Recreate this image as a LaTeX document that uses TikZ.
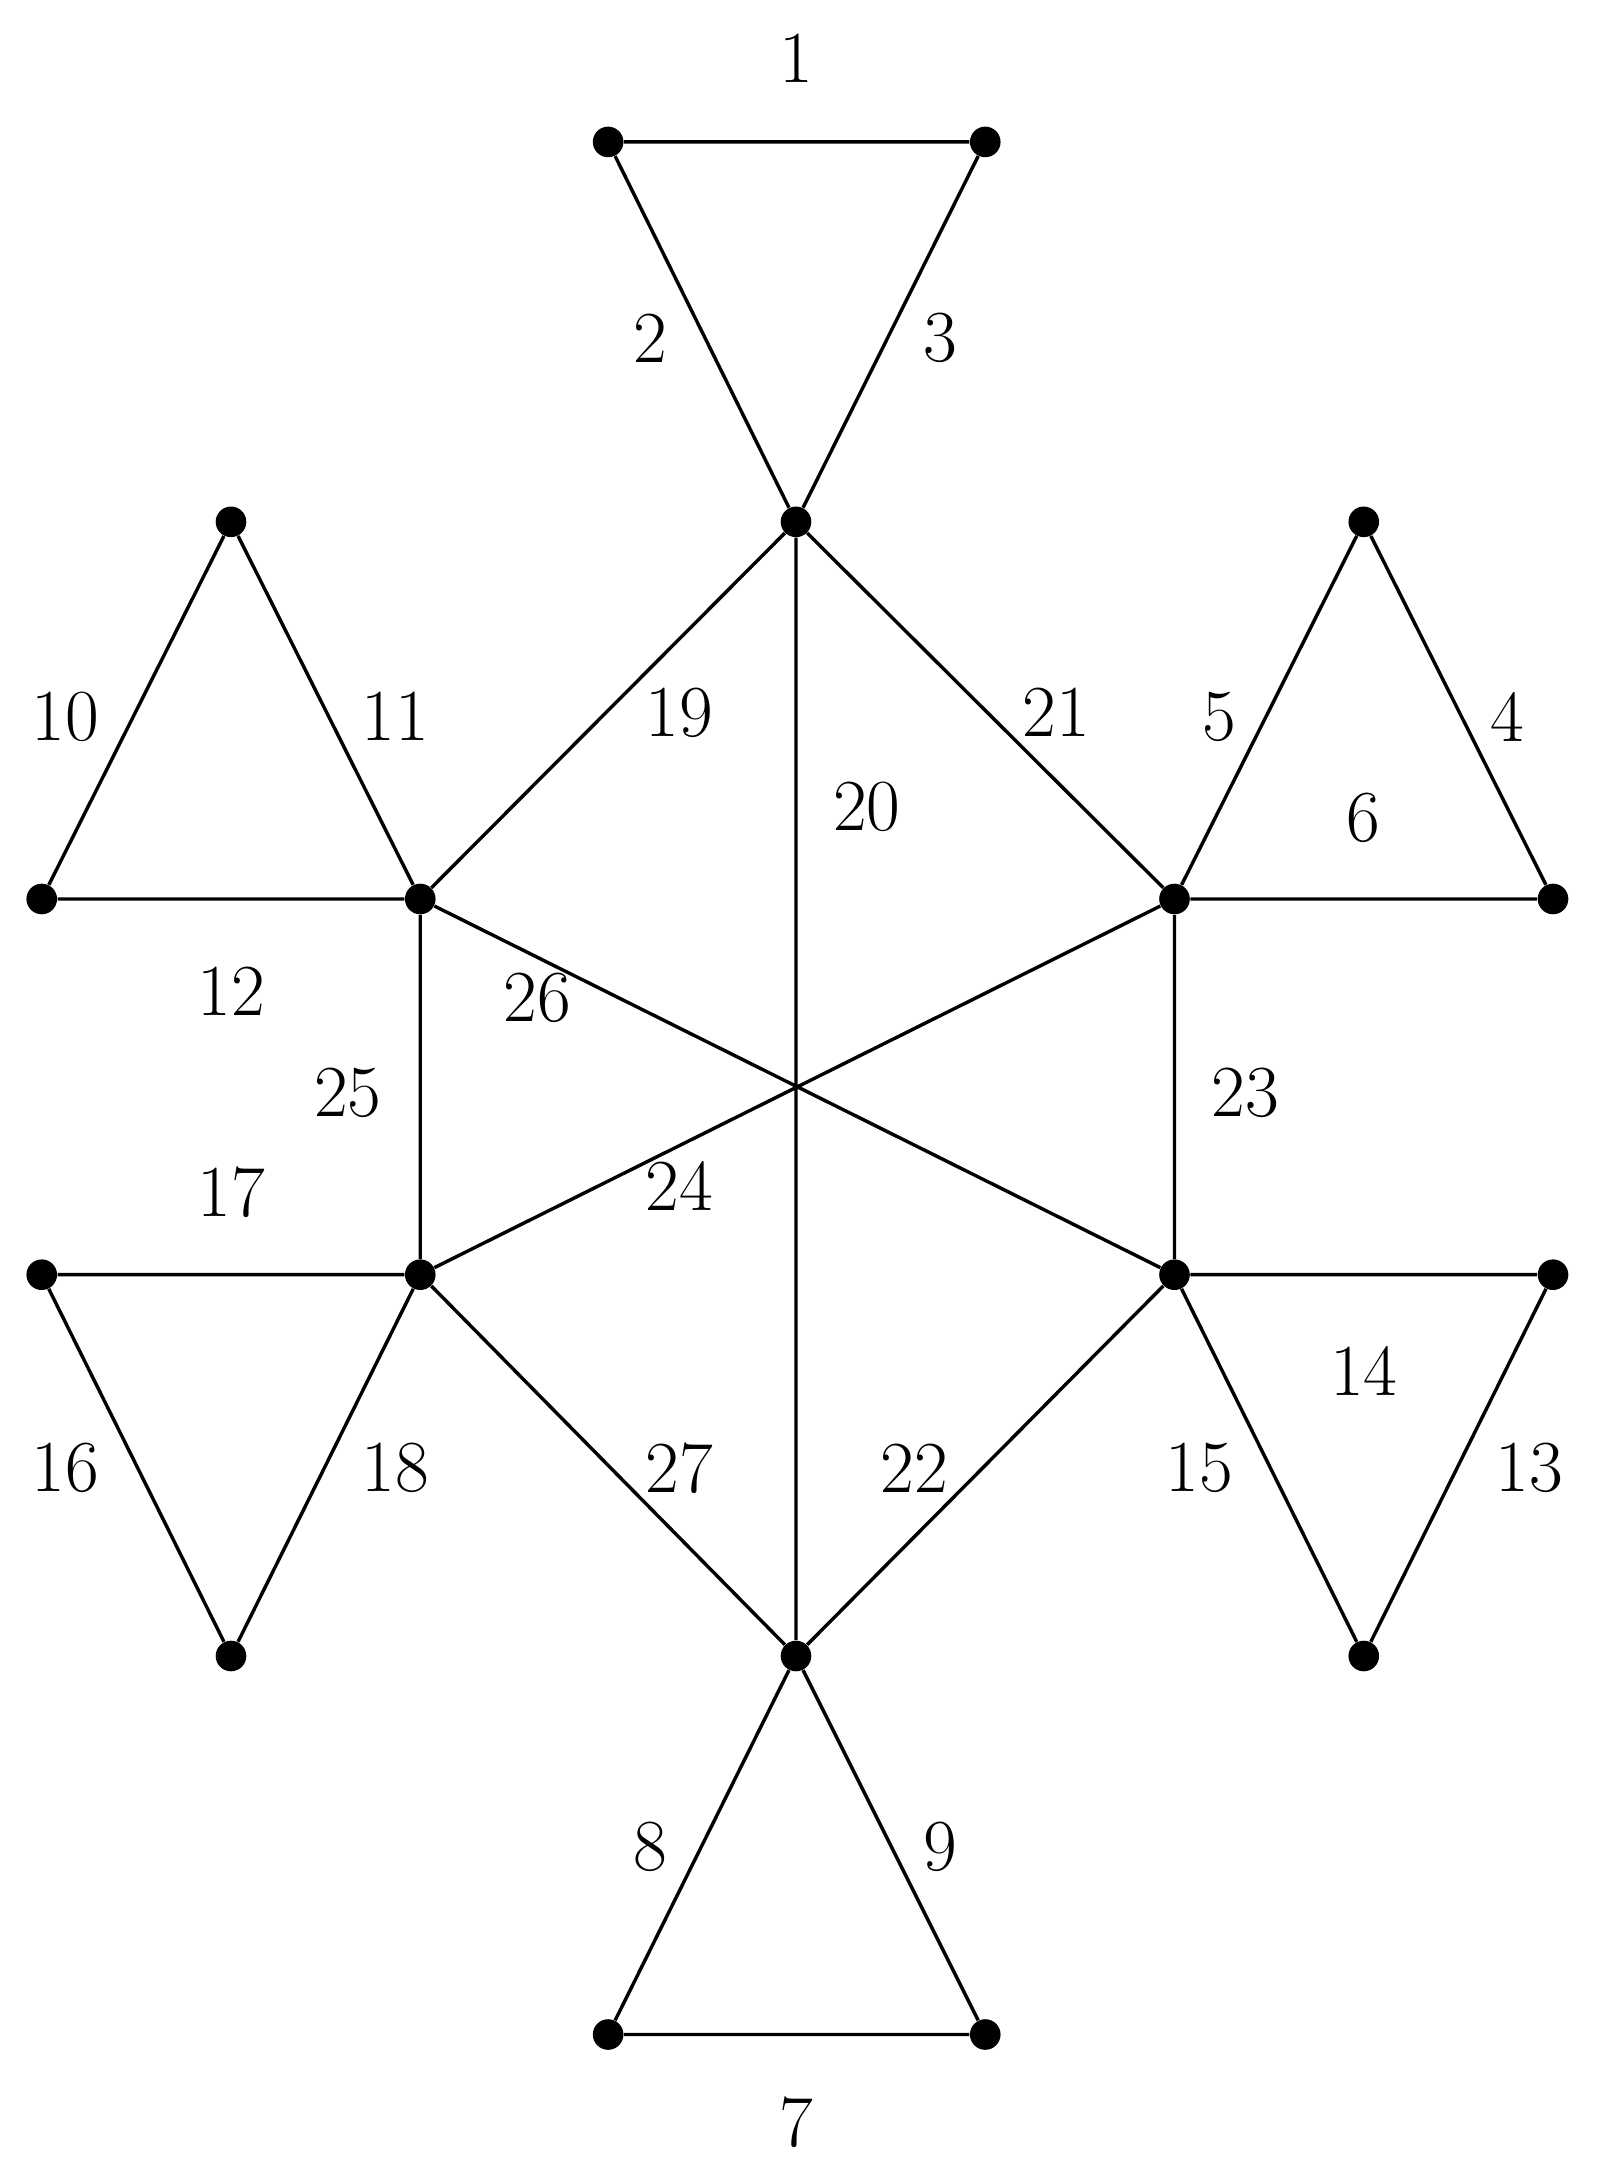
\documentclass[tikz,border=0pt]{standalone}
\begin{document}
\begin{tikzpicture}[x=0.02cm,y=-0.02cm,
  v/.style={circle,fill=black,inner sep=0pt,minimum size=0.44cm},
  e/.style={line width=1.4pt},
  lb/.style={font=\fontsize{30}{32}\selectfont}]
\useasboundingbox (0,0) rectangle (1152,1568);
\node[v] (t1) at (437,102) {}; \node[v] (t2) at (708,102) {};
\node[v] (h1) at (572,375) {}; \node[v] (h2) at (844,646) {};
\node[v] (h3) at (844,916) {}; \node[v] (h4) at (572,1190) {};
\node[v] (h5) at (302,916) {}; \node[v] (h6) at (302,646) {};
\coordinate (c) at (572,780);
\node[v] (a1) at (980,375) {}; \node[v] (a2) at (1116,646) {};
\node[v] (b1) at (166,375) {}; \node[v] (b2) at (30,646) {};
\node[v] (d1) at (30,916) {}; \node[v] (d2) at (166,1190) {};
\node[v] (f1) at (1116,916) {}; \node[v] (f2) at (980,1190) {};
\node[v] (g1) at (437,1462) {}; \node[v] (g2) at (708,1462) {};
\draw[e] (t1)--(t2) (t1)--(h1) (t2)--(h1);
\draw[e] (a1)--(a2) (a1)--(h2) (a2)--(h2);
\draw[e] (b1)--(b2) (b1)--(h6) (b2)--(h6);
\draw[e] (d1)--(d2) (d1)--(h5) (d2)--(h5);
\draw[e] (f1)--(f2) (f1)--(h3) (f2)--(h3);
\draw[e] (g1)--(g2) (g1)--(h4) (g2)--(h4);
\draw[e] (h1)--(h2)--(h3)--(h4)--(h5)--(h6)--(h1);
\draw[e] (h1)--(h4) (h6)--(h3) (h2)--(h5);
\node[lb] at (572,42) {1}; \node[lb] at (467,243) {2}; \node[lb] at (676,243) {3};
\node[lb] at (1083,515) {4}; \node[lb] at (876,515) {5}; \node[lb] at (980,588) {6};
\node[lb] at (572,1525) {7}; \node[lb] at (467,1327) {8}; \node[lb] at (676,1327) {9};
\node[lb] at (47,515) {10}; \node[lb] at (284,515) {11}; \node[lb] at (166,712) {12};
\node[lb] at (1099,1055) {13}; \node[lb] at (980,985) {14}; \node[lb] at (862,1055) {15};
\node[lb] at (47,1055) {16}; \node[lb] at (166,857) {17}; \node[lb] at (284,1055) {18};
\node[lb] at (488,512) {19}; \node[lb] at (623,580) {20}; \node[lb] at (759,512) {21};
\node[lb] at (657,1055) {22}; \node[lb] at (895,785) {23}; \node[lb] at (488,852) {24};
\node[lb] at (250,785) {25}; \node[lb] at (386,717) {26}; \node[lb] at (488,1055) {27};
\end{tikzpicture}
\end{document}
